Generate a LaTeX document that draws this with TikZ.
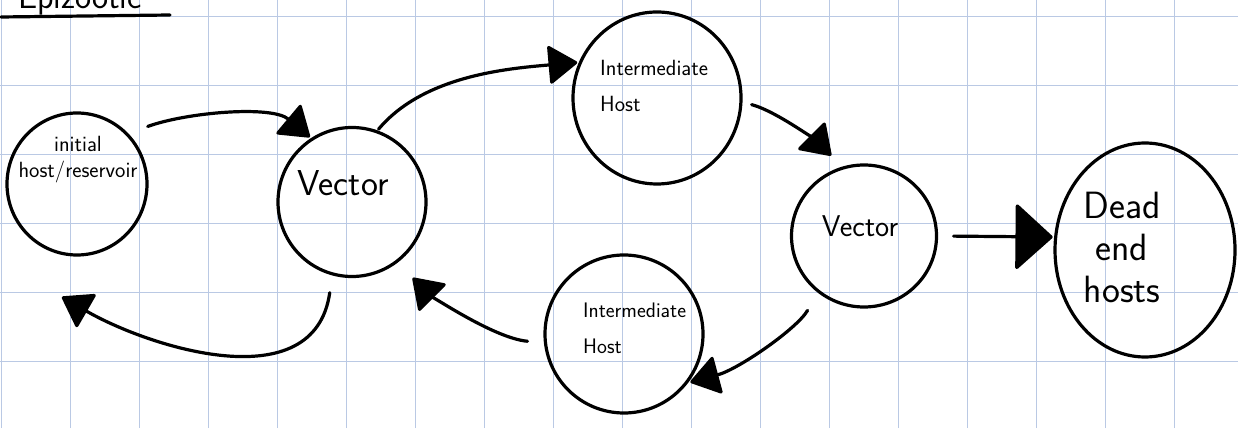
\documentclass[tikz,border=0pt]{standalone}
\usetikzlibrary{shapes.geometric,arrows.meta}
\definecolor{gridblue}{RGB}{186,201,228}
\newcommand{\strokewidth}{3.2pt}
\newcommand{\gridstep}{69}
\newcommand{\handsize}[2]{\fontsize{#1}{#2}\selectfont}
\tikzset{
    host/.style={draw, ellipse, line width=\strokewidth, inner sep=0pt, outer sep=3pt},
    link/.style={line width=\strokewidth, line cap=round, -{Triangle[length=30pt, width=40pt, round]}},
    words/.style={inner sep=0pt}
}

\begin{document}
\begin{tikzpicture}[x=1pt, y=1pt]
            \useasboundingbox (0,0) rectangle (1238,428);
            \foreach \k in {0,...,17}
                \draw[gridblue, line width=1pt] (1+\gridstep*\k,0) -- (1+\gridstep*\k,428);
            \foreach \k in {0,...,5}
                \draw[gridblue, line width=1pt] (0,411-\gridstep*\k) -- (1238,411-\gridstep*\k);

            \node[words, anchor=base west, font=\sffamily\handsize{34}{40}] (title) at (18,419) {Epizootic};
            \draw[line width=\strokewidth, line cap=round] (1,411) -- (170,413);

            \node[host, minimum width=140pt, minimum height=142pt] (reservoir) at (77,244) {};
            \node[host, minimum width=148pt, minimum height=149pt] (vectorA) at (352,226) {};
            \node[host, minimum width=168pt, minimum height=172pt] (hostA) at (657,330) {};
            \node[host, minimum width=158pt, minimum height=158pt] (hostB) at (624,94) {};
            \node[host, minimum width=145pt, minimum height=142pt] (vectorB) at (864,192) {};
            \node[host, minimum width=180pt, minimum height=214pt] (deadend) at (1145,178) {};

            \node[words, align=center, font=\sffamily\handsize{22}{26}] (reservoirtext) at (78,268) {initial\\host/reservoir};
            \node[words, font=\sffamily\handsize{36}{40}] (vectorAtext) at (343,245) {Vector};
            \node[words, align=left, anchor=north west, font=\sffamily\handsize{22}{36}] (hostAtext) at (600,368) {Intermediate\\Host};
            \node[words, align=left, anchor=north west, font=\sffamily\handsize{21}{36}] (hostBtext) at (583,125) {Intermediate\\Host};
            \node[words, font=\sffamily\handsize{30}{34}] (vectorBtext) at (860,202) {Vector};
            \node[words, align=center, font=\sffamily\handsize{38}{42}] (deadendtext) at (1122,181) {Dead\\end\\hosts};

            \coordinate (returntip) at (62,131);

            \draw[link, shorten <=19pt] (reservoir.44) .. controls +(20:60) and +(140:50) .. (vectorA.123);
            \draw[link] (vectorA.70) .. controls +(50:70) and +(185:70) .. (hostA.156);
            \draw[link, shorten <=8pt, shorten >=14pt] (hostA.-3) .. controls +(-15:35) and +(135:30) .. (vectorB.108);
            \draw[link, shorten <=14pt, -{Triangle[length=38pt, width=68pt, round]}] (vectorB.0) -- (deadend.172);
            \draw[link, shorten <=19pt] (vectorB.231) .. controls +(240:40) and +(15:50) .. (hostB.-36);
            \draw[link, shorten <=15pt, shorten >=20pt] (hostB.186) .. controls +(175:50) and +(-45:40) .. (vectorA.-53);
            \draw[link, shorten <=16pt] (vectorA.255) .. controls +(262:125) and +(-30:100) .. (returntip);
        \end{tikzpicture}
\end{document}
